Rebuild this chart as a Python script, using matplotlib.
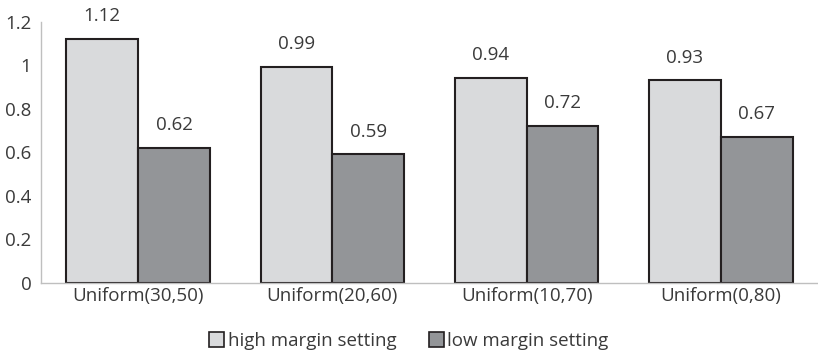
import matplotlib

matplotlib.use("Agg")
import matplotlib.pyplot as plt
import numpy as np
from matplotlib.patches import Patch

categories = ["Uniform(30,50)", "Uniform(20,60)", "Uniform(10,70)", "Uniform(0,80)"]
high_margin = [1.12, 0.99, 0.94, 0.93]
low_margin = [0.62, 0.59, 0.72, 0.67]
series_names = ["high margin setting", "low margin setting"]

plt.rcParams["font.family"] = ["Open Sans", "DejaVu Sans"]

HIGH_COLOR = "#d9dadc"
LOW_COLOR = "#939598"
EDGE = "#231f20"
TEXT = "#3a3a3a"
FS = 13.5

fig = plt.figure(figsize=(8.18, 3.55), dpi=100)
ax = fig.add_axes([41 / 818, 1 - 283 / 355, 777 / 818, (283 - 21.6) / 355])

x = np.arange(len(categories))
w = 0.37
b1 = ax.bar(x - w / 2, high_margin, w, color=HIGH_COLOR, edgecolor=EDGE,
            linewidth=1.5)
b2 = ax.bar(x + w / 2, low_margin, w, color=LOW_COLOR, edgecolor=EDGE,
            linewidth=1.5)

for bars, vals in ((b1, high_margin), (b2, low_margin)):
    for rect, v in zip(bars, vals):
        ax.annotate(f"{v:.2f}", (rect.get_x() + rect.get_width() / 2, v),
                    xytext=(0, 10), textcoords="offset points",
                    ha="center", va="bottom", fontsize=FS, color=TEXT)

ax.set_xlim(-0.5, 3.5)
ax.set_ylim(0, 1.2)
ax.set_yticks(np.arange(0, 1.21, 0.2))
ax.set_yticklabels(["0", "0.2", "0.4", "0.6", "0.8", "1", "1.2"])
ax.set_xticks(x)
ax.set_xticklabels(categories)
ax.tick_params(length=0, labelsize=FS, colors=TEXT)
ax.tick_params(axis="y", pad=7)
ax.tick_params(axis="x", pad=3)

for side in ("top", "right"):
    ax.spines[side].set_visible(False)
for side in ("left", "bottom"):
    ax.spines[side].set_color("#bfbfbf")
    ax.spines[side].set_linewidth(1.0)

handles = [Patch(facecolor=HIGH_COLOR, edgecolor=EDGE, linewidth=1.2),
           Patch(facecolor=LOW_COLOR, edgecolor=EDGE, linewidth=1.2)]
leg = fig.legend(handles, series_names, loc="center", ncol=2,
                 bbox_to_anchor=(0.5, 1 - 341 / 355), frameon=False,
                 fontsize=FS, handlelength=0.8, handleheight=0.8,
                 handletextpad=0.2, columnspacing=1.7)
for t in leg.get_texts():
    t.set_color(TEXT)

fig.savefig("out.png", dpi=100)
